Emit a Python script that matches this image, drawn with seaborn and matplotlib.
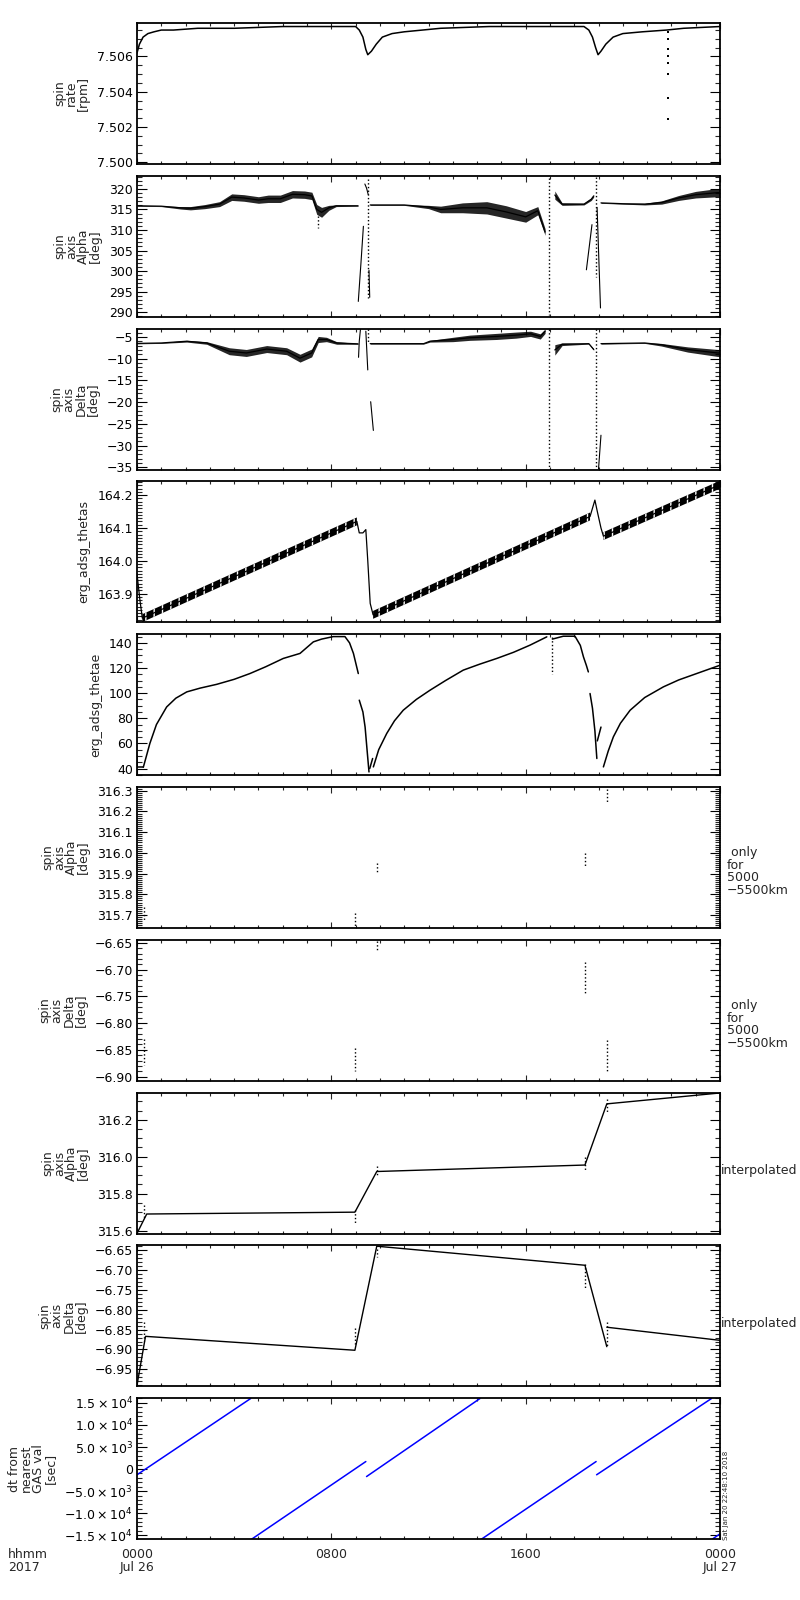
import numpy as np
import matplotlib
matplotlib.use("Agg")
import matplotlib.pyplot as plt
import seaborn as sns
from matplotlib.ticker import MultipleLocator, FuncFormatter

# ================================
# data (x in hours from 2017-07-26 00:00)
# ================================

# spin rate [rpm]
rate_hours = [0.0, 0.1, 0.25, 0.45, 0.7, 1.0, 1.5, 2.5, 4.0, 6.0, 8.0, 9.0, 9.15, 9.3, 9.42, 9.5,
              9.65, 9.85, 10.1, 10.5, 11.0, 12.5, 14.5, 16.5, 18.4, 18.6, 18.75, 18.88, 18.98, 19.1,
              19.3, 19.6, 20.0, 20.8, 21.8, 22.5, 24.0]
rate_values = [7.5062, 7.5067, 7.5071, 7.5073, 7.5074, 7.5075, 7.5075, 7.5076, 7.5076, 7.5077,
               7.5077, 7.5077, 7.5075, 7.5071, 7.5064, 7.5061, 7.5063, 7.5067, 7.5071, 7.5073,
               7.5074, 7.5076, 7.5077, 7.5077, 7.5077, 7.5075, 7.5071, 7.5065, 7.5061, 7.5063,
               7.5067, 7.5071, 7.5073, 7.5074, 7.5075, 7.5076, 7.5077]
rate_spike_hours = [21.86, 21.86, 21.86, 21.86, 21.86, 21.86, 21.86, 21.86]
rate_spike_values = [7.50737, 7.50699, 7.50642, 7.50604, 7.50562, 7.50499, 7.50366, 7.50248]

# spin axis alpha [deg], noisy bands (mid +- half)
alpha_quiet_hours = [0.0, 1.0, 1.8, 2.2, 2.8, 3.4, 3.9, 4.4, 5.0, 5.4, 5.9, 6.4, 6.9, 7.2, 7.4, 7.6, 7.9, 8.2, 9.1]
alpha_quiet_mid = [315.9, 315.8, 315.4, 315.3, 315.7, 316.3, 318.0, 317.8, 317.3, 317.6, 317.6,
                   318.7, 318.6, 318.3, 315.0, 314.3, 315.4, 315.9, 315.9]
alpha_quiet_half = [0.1, 0.1, 0.3, 0.4, 0.5, 0.6, 0.8, 0.8, 0.8, 0.9, 0.9, 0.9, 0.9, 0.9, 1.2, 1.2, 0.6, 0.2, 0.1]
alpha_mid_hours = [9.6, 11.0, 12.0, 12.5, 13.4, 14.4, 15.2, 16.0, 16.5, 16.8]
alpha_mid_mid = [316.1, 316.1, 315.6, 315.0, 315.4, 315.4, 314.4, 313.2, 314.7, 309.5]
alpha_mid_half = [0.1, 0.1, 0.4, 0.8, 1.2, 1.5, 1.5, 1.3, 1.0, 0.8]
alpha_gap_hours = [17.2, 17.5, 18.4, 18.7, 18.8]
alpha_gap_mid = [318.5, 316.3, 316.3, 317.5, 318.3]
alpha_gap_half = [1.0, 0.3, 0.2, 0.3, 0.3]
alpha_late_hours = [19.1, 20.0, 20.9, 21.6, 22.3, 23.0, 23.9, 24.0]
alpha_late_mid = [316.6, 316.4, 316.3, 316.7, 317.8, 318.6, 319.1, 319.1]
alpha_late_half = [0.1, 0.1, 0.2, 0.4, 0.6, 0.8, 1.0, 1.0]
alpha_ev1_hours = [9.11, 9.22, 9.32]
alpha_ev1_values = [292.6, 302.0, 310.9]
alpha_ev1b_hours = [9.38, 9.45, 9.52]
alpha_ev1b_values = [321.2, 320.2, 318.6]
alpha_ev1c_hours = [9.55, 9.58]
alpha_ev1c_values = [300.2, 293.6]
alpha_ev2_hours = [18.5, 18.73]
alpha_ev2_values = [300.3, 311.3]
alpha_ev2b_hours = [18.94, 19.08]
alpha_ev2b_values = [315.5, 291.0]
alpha_dot_hours = [7.45, 9.52, 16.97, 18.88]
alpha_dot_top = [313.5, 322.5, 322.7, 323.0]
alpha_dot_bottom = [310.5, 293.4, 289.4, 298.6]

# spin axis delta [deg]
delta_quiet_hours = [0.0, 1.0, 2.05, 2.87, 3.8, 4.5, 5.34, 6.16, 6.71, 7.19, 7.46, 7.8, 8.22, 9.1]
delta_quiet_mid = [-6.5, -6.4, -6.0, -6.4, -8.3, -8.7, -7.8, -8.3, -9.9, -8.7, -5.6, -5.6, -6.4, -6.6]
delta_quiet_half = [0.1, 0.1, 0.2, 0.3, 0.8, 0.8, 0.8, 0.8, 0.9, 0.9, 0.7, 0.5, 0.3, 0.1]
delta_mid_hours = [9.6, 11.8, 12.06, 13.0, 13.7, 14.8, 15.6, 16.2, 16.6, 16.8]
delta_mid_mid = [-6.56, -6.56, -6.0, -5.6, -5.2, -4.9, -4.6, -4.3, -4.9, -3.7]
delta_mid_half = [0.1, 0.1, 0.2, 0.5, 0.6, 0.7, 0.7, 0.6, 0.6, 0.5]
delta_gap_hours = [17.2, 17.5, 18.6, 18.8]
delta_gap_mid = [-8.0, -6.7, -6.56, -7.9]
delta_gap_half = [1.2, 0.3, 0.1, 0.2]
delta_late_hours = [19.1, 20.9, 21.58, 22.67, 23.9, 24.0]
delta_late_mid = [-6.56, -6.4, -6.8, -7.9, -8.7, -8.7]
delta_late_half = [0.1, 0.1, 0.3, 0.6, 0.8, 0.8]
delta_ev1_hours = [9.12, 9.15, 9.2]
delta_ev1_values = [-9.7, -6.0, -3.2]
delta_ev1b_hours = [9.42, 9.5]
delta_ev1b_values = [-3.7, -12.6]
delta_ev1c_hours = [9.62, 9.73]
delta_ev1c_values = [-19.9, -26.5]
delta_ev2_hours = [19.0, 19.1]
delta_ev2_values = [-35.3, -27.6]
delta_dot_hours = [9.52, 16.97, 18.88]
delta_dot_top = [-3.2, -3.2, -3.2]
delta_dot_bottom = [-6.5, -35.3, -35.3]

# erg_adsg_thetas
thetas_hours = [0.0, 0.12, 0.22, 9.05, 9.15, 9.3, 9.42, 9.5, 9.6, 9.72, 18.65, 18.85, 18.95, 19.1, 19.2, 24.0]
thetas_values = [163.96, 163.88, 163.825, 164.12, 164.085, 164.085, 164.095, 164.0, 163.87, 163.835,
                 164.135, 164.185, 164.15, 164.1, 164.075, 164.232]
thetas_ramp_start = [0.22, 9.72, 19.2]
thetas_ramp_end = [9.05, 18.65, 24.0]
thetas_ramp_v0 = [163.825, 163.835, 164.075]
thetas_ramp_v1 = [164.12, 164.135, 164.232]

# erg_adsg_thetae
thetae_a_hours = [0.26, 0.53, 0.8, 1.22, 1.6, 2.05, 2.6, 3.28, 4.0, 4.65, 5.3, 6.02, 6.71, 7.26,
                  7.6, 8.08, 8.56, 8.75, 8.91, 9.11]
thetae_a_values = [41, 60, 75, 89, 96, 101, 104, 107, 111, 115.6, 121, 127.6, 131.6, 140.8,
                   143, 145, 145, 140, 131.6, 115.6]
thetae_start_hours = [0.0, 0.0, 0.25]
thetae_start_values = [50, 41, 41]
thetae_b_hours = [9.15, 9.3, 9.39, 9.47, 9.55]
thetae_b_values = [94.4, 85, 73, 55, 37.3]
thetae_c_hours = [9.73, 9.95, 10.28, 10.6, 10.96, 11.5, 12.06, 12.7, 13.43, 14.1, 14.81, 15.5, 16.18, 16.87]
thetae_c_values = [41.3, 55, 67.9, 78, 86.4, 95, 102.3, 110, 118.3, 123, 127.6, 132.5, 138.2, 144.8]
thetae_side1_hours = [9.58, 9.7]
thetae_side1_values = [40, 48]
thetae_d_hours = [17.1, 17.55, 18.03, 18.25, 18.38, 18.5, 18.58]
thetae_d_values = [143, 145.3, 145.3, 138, 128.8, 122, 116.9]
thetae_e_hours = [18.65, 18.75, 18.85, 18.93]
thetae_e_values = [99.7, 88, 70, 48]
thetae_side2_hours = [18.95, 19.1]
thetae_side2_values = [62, 73]
thetae_f_hours = [19.2, 19.4, 19.61, 19.9, 20.3, 20.9, 21.67, 22.3, 23.04, 24.0]
thetae_f_values = [41.3, 54, 65.2, 76, 86.4, 96.5, 105, 110.5, 115.6, 122.2]
thetae_dot_hours = [17.07]
thetae_dot_top = [145.0]
thetae_dot_bottom = [115.6]

# spin axis only for 5000-5500km
alpha_only_hours = [0.3, 8.97, 9.87, 18.44, 19.34]
alpha_only_top = [315.74, 315.71, 315.95, 316.00, 316.31]
alpha_only_bottom = [315.67, 315.64, 315.90, 315.93, 316.24]
delta_only_hours = [0.3, 8.97, 9.87, 18.44, 19.34]
delta_only_top = [-6.83, -6.847, -6.646, -6.686, -6.831]
delta_only_bottom = [-6.878, -6.890, -6.667, -6.745, -6.893]

# interpolated spin axis
alpha_interp_hours = [0.0, 0.4, 8.97, 9.87, 18.44, 19.34, 24.0]
alpha_interp_values = [315.585, 315.69, 315.70, 315.92, 315.955, 316.286, 316.345]
delta_interp_hours = [0.0, 0.35, 8.97, 9.87, 18.44, 19.34]
delta_interp_values = [-6.99, -6.867, -6.902, -6.64, -6.688, -6.893]
delta_interp2_hours = [19.34, 24.0]
delta_interp2_values = [-6.844, -6.877]

# dt from nearest GAS val [sec], one straight run per segment
dt_start_hours = [0.0, 4.72, 9.45, 14.18, 18.92, 23.68]
dt_end_hours = [4.68, 9.42, 14.12, 18.90, 23.65, 24.0]
dt_start_sec = [-1300, -15900, -1700, -15900, -1300, -15900]
dt_end_sec = [16000, 1700, 16000, 1700, 16000, -14700]

# axes settings per panel
y_limits = [(7.4999, 7.5079), (288.85, 323.2), (-35.5, -3.1), (163.812, 164.242), (34.7, 146.9),
            (315.637, 316.318), (-6.908, -6.644), (315.584, 316.347), (-6.993, -6.638), (-15907, 16066)]
y_major = [0.002, 5, 5, 0.1, 20, 0.1, 0.05, 0.2, 0.05, 5000]
y_minor = [0.0005, 1, 1, 0.01, 5, 0.01, 0.01, 0.05, 0.01, 1000]
y_formats = ["%.3f", "%d", "%d", "%.1f", "%d", "%.1f", "%.2f", "%.1f", "%.2f", None]
y_labels = ["spin\nrate\n[rpm]", "spin\naxis\nAlpha\n[deg]", "spin\naxis\nDelta\n[deg]",
            "erg_adsg_thetas", "erg_adsg_thetae", "spin\naxis\nAlpha\n[deg]", "spin\naxis\nDelta\n[deg]",
            "spin\naxis\nAlpha\n[deg]", "spin\naxis\nDelta\n[deg]", "dt from\nnearest\nGAS val\n[sec]"]
xtick_hours = [0, 8, 16, 24]
xtick_labels = ["0000\nJul 26", "0800", "1600", "0000\nJul 27"]

# ================================
# style
# ================================
sns.set_style("ticks")
plt.rcParams["font.family"] = ["DejaVu Sans"]
plt.rcParams["mathtext.fontset"] = "dejavusans"
plt.rcParams["mathtext.default"] = "regular"
plt.rcParams["hatch.linewidth"] = 1.0


def trace(ax, hours, values, color="black", lw=0.8, ls="-"):
    sns.lineplot(x=hours, y=values, ax=ax, color=color, linewidth=lw, linestyle=ls,
                 sort=False, estimator=None, legend=False)


def band(ax, hours, mid, half):
    lo = [m - h for m, h in zip(mid, half)]
    hi = [m + h for m, h in zip(mid, half)]
    ax.fill_between(hours, lo, hi, color="black", alpha=0.85, linewidth=0)
    trace(ax, hours, mid, lw=0.9)


def columns(ax, hours, tops, bottoms, lw=1.0):
    for h, t, b in zip(hours, tops, bottoms):
        trace(ax, [h, h], [t, b], lw=lw, ls=":")


def minus_fmt(fmt):
    def f(v, pos):
        s = fmt % v
        if s.startswith("-") and float(s) == 0:
            s = s[1:]
        return s.replace("-", "\u2212")
    return FuncFormatter(f)


def sci_fmt(v, pos):
    if abs(v) < 1e-9:
        return "0"
    exp = int(np.floor(np.log10(abs(v)) + 1e-9))
    mant = v / 10 ** exp
    return r"$%.1f\times10^{%d}$" % (mant, exp)


fig = plt.figure(figsize=(8, 16), dpi=100)
W, H = 800.0, 1600.0
left_px, width_px = 137, 583
top0, step, height_px = 23, 152.8, 141

axes = []
for i in range(10):
    top = top0 + i * step
    ax = fig.add_axes([left_px / W, 1 - (top + height_px) / H, width_px / W, height_px / H])
    axes.append(ax)

# panel 1
ax = axes[0]
trace(ax, rate_hours, rate_values, lw=1.1)
sns.scatterplot(x=rate_spike_hours, y=rate_spike_values, ax=ax, color="black", s=3,
                marker="s", linewidth=0, legend=False)

# panel 2
ax = axes[1]
band(ax, alpha_quiet_hours, alpha_quiet_mid, alpha_quiet_half)
band(ax, alpha_mid_hours, alpha_mid_mid, alpha_mid_half)
band(ax, alpha_gap_hours, alpha_gap_mid, alpha_gap_half)
band(ax, alpha_late_hours, alpha_late_mid, alpha_late_half)
for hh, vv in [(alpha_ev1_hours, alpha_ev1_values), (alpha_ev1b_hours, alpha_ev1b_values),
               (alpha_ev1c_hours, alpha_ev1c_values), (alpha_ev2_hours, alpha_ev2_values),
               (alpha_ev2b_hours, alpha_ev2b_values)]:
    trace(ax, hh, vv)
columns(ax, alpha_dot_hours, alpha_dot_top, alpha_dot_bottom)

# panel 3
ax = axes[2]
band(ax, delta_quiet_hours, delta_quiet_mid, delta_quiet_half)
band(ax, delta_mid_hours, delta_mid_mid, delta_mid_half)
band(ax, delta_gap_hours, delta_gap_mid, delta_gap_half)
band(ax, delta_late_hours, delta_late_mid, delta_late_half)
for hh, vv in [(delta_ev1_hours, delta_ev1_values), (delta_ev1b_hours, delta_ev1b_values),
               (delta_ev1c_hours, delta_ev1c_values), (delta_ev2_hours, delta_ev2_values)]:
    trace(ax, hh, vv)
columns(ax, delta_dot_hours, delta_dot_top, delta_dot_bottom)

# panel 4
ax = axes[3]
trace(ax, thetas_hours, thetas_values, lw=0.9)
for s, e, v0, v1 in zip(thetas_ramp_start, thetas_ramp_end, thetas_ramp_v0, thetas_ramp_v1):
    ax.fill_between([s, e], [v0 - 0.012, v1 - 0.012], [v0 + 0.012, v1 + 0.012],
                    facecolor="black", edgecolor="white", hatch="||", linewidth=0)

# panel 5
ax = axes[4]
for hh, vv in [(thetae_start_hours, thetae_start_values), (thetae_a_hours, thetae_a_values),
               (thetae_b_hours, thetae_b_values), (thetae_c_hours, thetae_c_values),
               (thetae_side1_hours, thetae_side1_values), (thetae_d_hours, thetae_d_values),
               (thetae_e_hours, thetae_e_values), (thetae_side2_hours, thetae_side2_values),
               (thetae_f_hours, thetae_f_values)]:
    trace(ax, hh, vv, lw=1.1)
columns(ax, thetae_dot_hours, thetae_dot_top, thetae_dot_bottom)

# panels 6, 7
columns(axes[5], alpha_only_hours, alpha_only_top, alpha_only_bottom)
columns(axes[6], delta_only_hours, delta_only_top, delta_only_bottom)

# panels 8, 9
trace(axes[7], alpha_interp_hours, alpha_interp_values, lw=1.0)
columns(axes[7], alpha_only_hours, alpha_only_top, alpha_only_bottom)
trace(axes[8], delta_interp_hours, delta_interp_values, lw=1.0)
trace(axes[8], delta_interp2_hours, delta_interp2_values, lw=1.0)
columns(axes[8], delta_only_hours, delta_only_top, delta_only_bottom)

# panel 10
ax = axes[9]
for s, e, v0, v1 in zip(dt_start_hours, dt_end_hours, dt_start_sec, dt_end_sec):
    trace(ax, [s, e], [v0, v1], color="#0000ff", lw=1.1)

# ================================
# axes formatting
# ================================
for i, ax in enumerate(axes):
    ax.set_xlim(0, 24)
    ax.set_ylim(*y_limits[i])
    ax.xaxis.set_major_locator(MultipleLocator(8))
    ax.xaxis.set_minor_locator(MultipleLocator(1))
    ax.yaxis.set_major_locator(MultipleLocator(y_major[i]))
    ax.yaxis.set_minor_locator(MultipleLocator(y_minor[i]))
    if y_formats[i] is None:
        ax.yaxis.set_major_formatter(FuncFormatter(sci_fmt))
    else:
        ax.yaxis.set_major_formatter(minus_fmt(y_formats[i]))
    ax.tick_params(axis="x", which="major", direction="in", length=4.3, width=0.8,
                   top=True, bottom=True, labelbottom=False)
    ax.tick_params(axis="x", which="minor", direction="in", length=2.2, width=0.8, top=True, bottom=True)
    ax.tick_params(axis="y", which="major", direction="in", length=7.2, width=0.8,
                   left=True, right=True, labelsize=9, pad=3, colors="black")
    ax.tick_params(axis="y", which="minor", direction="in", length=3.6, width=0.8, left=True, right=True)
    for sp in ax.spines.values():
        sp.set_linewidth(1.3)
        sp.set_color("black")
    ax.set_xlabel("")
    ax.set_ylabel(y_labels[i], fontsize=9, linespacing=0.9, multialignment="center", labelpad=5)
    ax.set_facecolor("white")

bottom = axes[9]
bottom.set_xticks(xtick_hours)
bottom.set_xticklabels(xtick_labels, fontsize=9, linespacing=1.0)
bottom.tick_params(axis="x", which="major", labelbottom=True, pad=6)

for ax in (axes[5], axes[6]):
    ax.text(1.012, 0.40, " only\nfor\n5000\n\u22125500km", transform=ax.transAxes,
            ha="left", va="center", fontsize=9, linespacing=0.95)
for ax in (axes[7], axes[8]):
    ax.text(1.002, 0.445, "interpolated", transform=ax.transAxes, ha="left", va="center", fontsize=9)

fig.text(8 / W, 1 - 1548 / H, "hhmm\n2017", ha="left", va="top", fontsize=9, linespacing=1.0)
fig.text(723 / W, 1 - 1540 / H, "Sat Jan 20 22:48:10 2018", rotation=90, ha="left", va="bottom", fontsize=5)

fig.savefig("out.png", dpi=100, facecolor="white")
